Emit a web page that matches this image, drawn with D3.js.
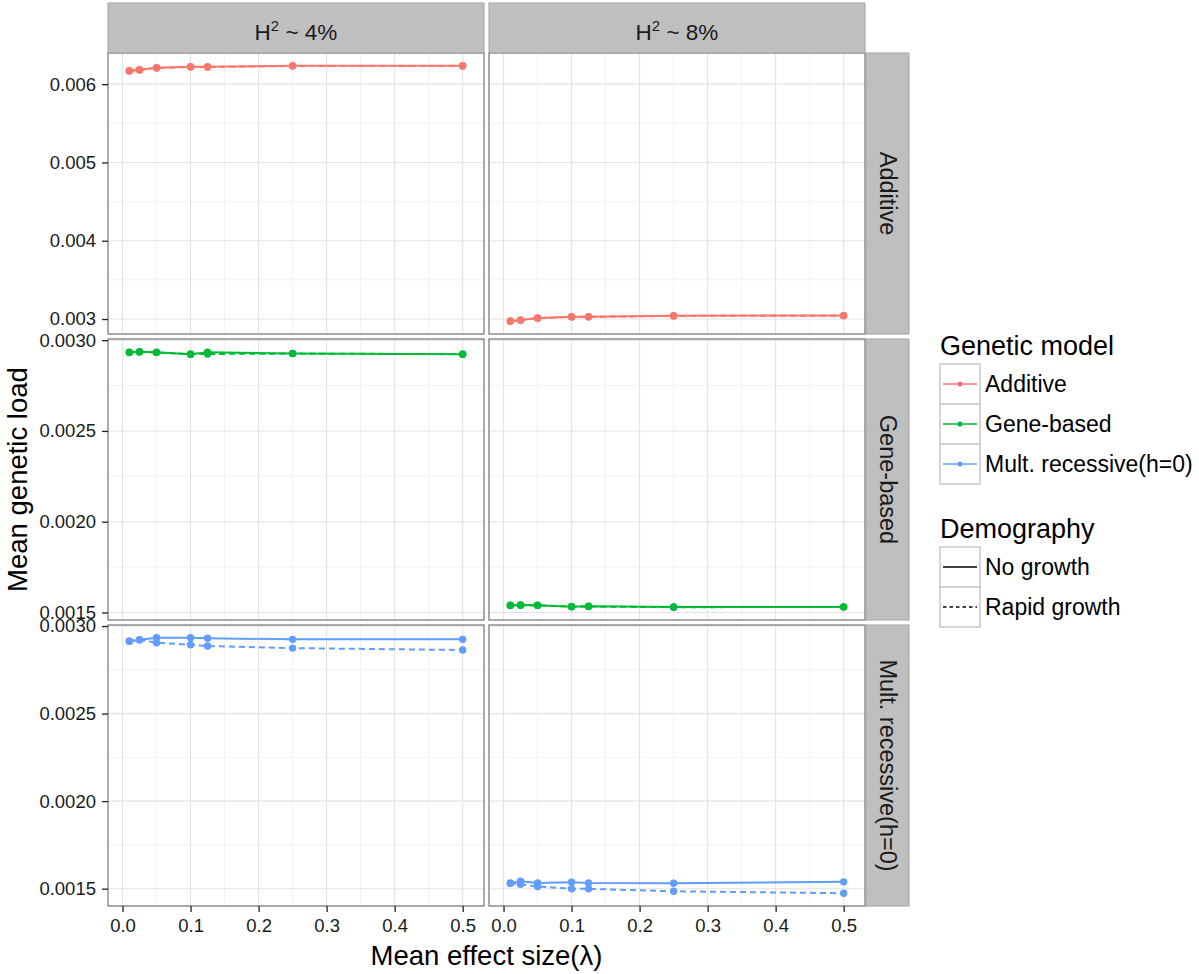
<!DOCTYPE html>
<html>
<head>
<meta charset="utf-8">
<script src="https://cdn.jsdelivr.net/npm/d3@7"></script>
<style>
  body { margin: 0; background: #ffffff; }
  svg { display: block; font-family: "Liberation Sans", Arial, Helvetica, sans-serif; }
</style>
</head>
<body>
<script>
// ---------------- DATA ----------------
const effectSizes = [0.01, 0.025, 0.05, 0.1, 0.125, 0.25, 0.5];
const models = ["Additive", "Gene-based", "Mult. recessive(h=0)"];
const heritabilityLabels = ["4%", "8%"];
const demography = ["No growth", "Rapid growth"];

const additive_h4_noGrowth = [0.006171, 0.006184, 0.006210, 0.006222, 0.006222, 0.006235, 0.006235];
const additive_h4_rapid    = [0.006168, 0.006181, 0.006207, 0.006219, 0.006220, 0.006232, 0.006233];
const additive_h8_noGrowth = [0.002974, 0.002987, 0.003013, 0.003029, 0.003029, 0.003042, 0.003046];
const additive_h8_rapid    = [0.002972, 0.002985, 0.003011, 0.003027, 0.003028, 0.003040, 0.003043];

const gene_h4_noGrowth = [0.002933, 0.002936, 0.002933, 0.002922, 0.002933, 0.002927, 0.002922];
const gene_h4_rapid    = [0.002932, 0.002935, 0.002932, 0.002923, 0.002924, 0.002926, 0.002923];
const gene_h8_noGrowth = [0.001540, 0.001541, 0.001540, 0.001532, 0.001534, 0.001530, 0.001530];
const gene_h8_rapid    = [0.001539, 0.001540, 0.001539, 0.001533, 0.001533, 0.001529, 0.001531];

const mult_h4_noGrowth = [0.002913, 0.002922, 0.002933, 0.002933, 0.002930, 0.002924, 0.002924];
const mult_h4_rapid    = [0.002913, 0.002921, 0.002905, 0.002893, 0.002886, 0.002874, 0.002863];
const mult_h8_noGrowth = [0.001531, 0.001543, 0.001533, 0.001537, 0.001533, 0.001531, 0.001539];
const mult_h8_rapid    = [0.001531, 0.001525, 0.001512, 0.001500, 0.001499, 0.001485, 0.001474];

const xTicks = [0, 0.1, 0.2, 0.3, 0.4, 0.5];
const yTicksAdditive = [0.003, 0.004, 0.005, 0.006];
const yTicksGene = [0.0015, 0.0020, 0.0025, 0.0030];
const yTicksMult = [0.0015, 0.0020, 0.0025, 0.0030];

const xTitle = "Mean effect size(λ)";
const yTitle = "Mean genetic load";
const legendTitleModel = "Genetic model";
const legendTitleDemo = "Demography";

// ---------------- BUILD TABLE ----------------
const valueTable = [
  [[additive_h4_noGrowth, additive_h4_rapid], [additive_h8_noGrowth, additive_h8_rapid]],
  [[gene_h4_noGrowth, gene_h4_rapid], [gene_h8_noGrowth, gene_h8_rapid]],
  [[mult_h4_noGrowth, mult_h4_rapid], [mult_h8_noGrowth, mult_h8_rapid]]
];
const yTicksByRow = [yTicksAdditive, yTicksGene, yTicksMult];
const yFormatByRow = [d3.format(".3f"), d3.format(".4f"), d3.format(".4f")];

// ---------------- LAYOUT / STYLE ----------------
const W = 1199, H = 974;
const panelLeft = 108, panelTop = 53, pw = 376, ph = 281, gap = 5;
const stripTopY = 3, stripH = 50, stripW = 43;
const colors = d3.scaleOrdinal().domain(models).range(["#F8766D", "#00BA38", "#619CFF"]);
const dashes = d3.scaleOrdinal().domain(demography).range(["none", "6,4"]);

const svg = d3.select("body").append("svg").attr("width", W).attr("height", H);
svg.append("rect").attr("width", W).attr("height", H).attr("fill", "#ffffff");

const xPad = 0.064 * (d3.max(effectSizes) - d3.min(effectSizes));
const xDomain = [d3.min(effectSizes) - xPad, d3.max(effectSizes) + xPad];
const xMinor = d3.range(0.05, 0.5, 0.1);

function colX(c) { return panelLeft + c * (pw + gap); }
function rowY(r) { return panelTop + r * (ph + gap); }

models.forEach((model, r) => {
  const all = valueTable[r].flat(2);
  const ext = d3.extent(all);
  const pad = 0.05 * (ext[1] - ext[0]);
  const y = d3.scaleLinear().domain([ext[0] - pad, ext[1] + pad]).range([rowY(r) + ph, rowY(r)]);
  const ticks = yTicksByRow[r];
  const step = ticks[1] - ticks[0];
  const yMinor = [ticks[0] - step / 2].concat(ticks.map(t => t + step / 2))
    .filter(v => v > y.domain()[0] && v < y.domain()[1]);

  heritabilityLabels.forEach((hl, c) => {
    const x = d3.scaleLinear().domain(xDomain).range([colX(c), colX(c) + pw]);
    const g = svg.append("g");
    g.append("rect").attr("x", colX(c)).attr("y", rowY(r)).attr("width", pw).attr("height", ph)
      .attr("fill", "#ffffff");
    g.selectAll(".xm").data(xMinor).join("line")
      .attr("x1", d => x(d)).attr("x2", d => x(d)).attr("y1", rowY(r)).attr("y2", rowY(r) + ph)
      .attr("stroke", "#f2f2f2").attr("stroke-width", 1);
    g.selectAll(".ym").data(yMinor).join("line")
      .attr("y1", d => y(d)).attr("y2", d => y(d)).attr("x1", colX(c)).attr("x2", colX(c) + pw)
      .attr("stroke", "#f2f2f2").attr("stroke-width", 1);
    g.selectAll(".xg").data(xTicks).join("line")
      .attr("x1", d => x(d)).attr("x2", d => x(d)).attr("y1", rowY(r)).attr("y2", rowY(r) + ph)
      .attr("stroke", "#e3e3e3").attr("stroke-width", 1.1);
    g.selectAll(".yg").data(ticks).join("line")
      .attr("y1", d => y(d)).attr("y2", d => y(d)).attr("x1", colX(c)).attr("x2", colX(c) + pw)
      .attr("stroke", "#e3e3e3").attr("stroke-width", 1.1);

    const line = d3.line().x((d, i) => x(effectSizes[i])).y(d => y(d));
    demography.forEach((dem, k) => {
      const vals = valueTable[r][c][k];
      g.append("path").attr("d", line(vals)).attr("fill", "none")
        .attr("stroke", colors(model)).attr("stroke-width", 2)
        .attr("stroke-dasharray", dashes(dem));
    });
    demography.forEach((dem, k) => {
      const vals = valueTable[r][c][k];
      g.selectAll(null).data(vals).join("circle")
        .attr("cx", (d, i) => x(effectSizes[i])).attr("cy", d => y(d)).attr("r", 3.7)
        .attr("fill", colors(model));
    });
    g.append("rect").attr("x", colX(c)).attr("y", rowY(r)).attr("width", pw).attr("height", ph)
      .attr("fill", "none").attr("stroke", "#878787").attr("stroke-width", 1.4);

    if (r === models.length - 1) {
      const ax = svg.append("g").attr("transform", `translate(0,${rowY(r) + ph})`)
        .call(d3.axisBottom(x).tickValues(xTicks).tickFormat(d3.format(".1f")).tickSize(6).tickPadding(7));
      ax.select(".domain").remove();
      ax.selectAll("line").attr("stroke", "#222").attr("stroke-width", 1.3);
      ax.selectAll("text").attr("font-size", 18.5).attr("fill", "#1a1a1a")
        .attr("font-family", "Liberation Sans, Arial, sans-serif");
    }
    if (r === 0) {
      svg.append("rect").attr("x", colX(c)).attr("y", stripTopY).attr("width", pw).attr("height", stripH)
        .attr("fill", "#bfbfbf").attr("stroke", "#a3a3a3").attr("stroke-width", 1);
      const t = svg.append("text").attr("x", colX(c) + pw / 2).attr("y", stripTopY + 37)
        .attr("text-anchor", "middle").attr("font-size", 22.5).attr("fill", "#1a1a1a");
      t.append("tspan").text("H");
      t.append("tspan").attr("font-size", 15).attr("dy", -9).text("2");
      t.append("tspan").attr("dy", 9).text(" ~ " + hl);
    }
  });

  const ay = svg.append("g").attr("transform", `translate(${panelLeft},0)`)
    .call(d3.axisLeft(y).tickValues(ticks).tickFormat(yFormatByRow[r]).tickSize(6).tickPadding(6));
  ay.select(".domain").remove();
  ay.selectAll("line").attr("stroke", "#222").attr("stroke-width", 1.3);
  ay.selectAll("text").attr("font-size", 18.5).attr("fill", "#1a1a1a")
    .attr("font-family", "Liberation Sans, Arial, sans-serif");

  const sx = colX(1) + pw + 1;
  svg.append("rect").attr("x", sx).attr("y", rowY(r)).attr("width", stripW).attr("height", ph)
    .attr("fill", "#bfbfbf").attr("stroke", "#a3a3a3").attr("stroke-width", 1);
  svg.append("text").attr("transform", `translate(${sx + stripW / 2 - 8},${rowY(r) + ph / 2}) rotate(90)`)
    .attr("text-anchor", "middle").attr("font-size", 23.5).attr("fill", "#1a1a1a").text(model);
});

svg.append("text").attr("x", colX(0) + (2 * pw + gap) / 2).attr("y", 965)
  .attr("text-anchor", "middle").attr("font-size", 27.5).attr("fill", "#000").text(xTitle);
svg.append("text").attr("transform", `translate(27,${panelTop + (3 * ph + 2 * gap) / 2}) rotate(-90)`)
  .attr("text-anchor", "middle").attr("font-size", 27.5).attr("fill", "#000").text(yTitle);

// ---------------- LEGENDS ----------------
const lgX = 940, keyW = 40, keyH = 40;
function legendTitle(txt, y) {
  svg.append("text").attr("x", lgX).attr("y", y).attr("font-size", 27).attr("fill", "#000").text(txt);
}
legendTitle(legendTitleModel, 355);
models.forEach((m, i) => {
  const ky = 364 + i * keyH;
  svg.append("rect").attr("x", lgX).attr("y", ky).attr("width", keyW).attr("height", keyH)
    .attr("fill", "#ffffff").attr("stroke", "#cccccc").attr("stroke-width", 1.6);
  svg.append("line").attr("x1", lgX + 3).attr("x2", lgX + keyW - 3).attr("y1", ky + keyH / 2).attr("y2", ky + keyH / 2)
    .attr("stroke", colors(m)).attr("stroke-width", 1.6);
  svg.append("circle").attr("cx", lgX + keyW / 2).attr("cy", ky + keyH / 2).attr("r", 2.6).attr("fill", colors(m));
  svg.append("text").attr("x", lgX + keyW + 5).attr("y", ky + keyH / 2 + 8).attr("font-size", 23)
    .attr("fill", "#000").text(m);
});
legendTitle(legendTitleDemo, 538);
demography.forEach((d, i) => {
  const ky = 547 + i * keyH;
  svg.append("rect").attr("x", lgX).attr("y", ky).attr("width", keyW).attr("height", keyH)
    .attr("fill", "#ffffff").attr("stroke", "#cccccc").attr("stroke-width", 1.6);
  svg.append("line").attr("x1", lgX + 3).attr("x2", lgX + keyW - 3).attr("y1", ky + keyH / 2).attr("y2", ky + keyH / 2)
    .attr("stroke", "#000").attr("stroke-width", 1.6).attr("stroke-dasharray", i === 0 ? "none" : "3.5,3");
  svg.append("text").attr("x", lgX + keyW + 5).attr("y", ky + keyH / 2 + 8).attr("font-size", 23)
    .attr("fill", "#000").text(d);
});
</script>
</body>
</html>
